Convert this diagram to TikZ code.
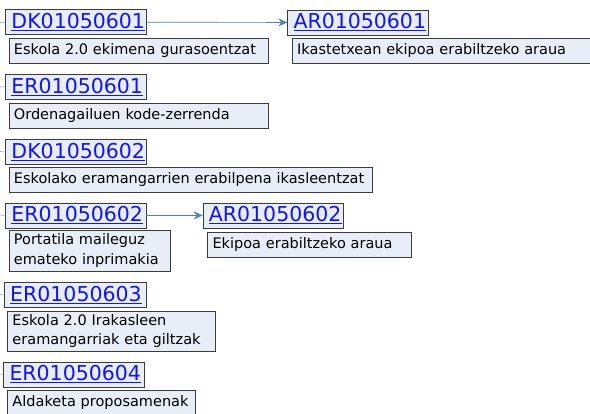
\documentclass[tikz,border=0pt]{standalone}
\usepackage{fontspec}
\setmainfont{DejaVu Sans}
\usetikzlibrary{arrows.meta}
\definecolor{boxfill}{RGB}{232,238,248}
\definecolor{boxline}{RGB}{60,60,60}
\definecolor{linkblue}{RGB}{20,20,240}
\definecolor{conn}{RGB}{79,129,189}
\tikzset{
  titlebox/.style={draw=boxline, fill=boxfill, anchor=north west, inner xsep=6pt, inner ysep=0pt,
    minimum width=141pt, minimum height=25pt, text width=129pt, align=left,
    font=\fontsize{20.5}{22}\selectfont, text=linkblue},
  descbox/.style={draw=boxline, fill=boxfill, anchor=north west, inner xsep=5pt, inner ysep=0pt,
    minimum height=25pt, align=left, font=\fontsize{14.5}{19.5}\selectfont},
  conn/.style={draw=conn, line width=0.7pt, -{Stealth[length=9pt,width=8pt]}},
  stub/.style={draw=conn!70, line width=0.6pt},
}
\begin{document}
\begin{tikzpicture}[x=1pt,y=-1pt]
\useasboundingbox (0,0) rectangle (590,414);
% row 1
\node[titlebox] (t1) at (5.3,9.5) {\underline{DK01050601}};
\node[descbox, text width=249.3pt] (d1) at (8.7,38.3) {Eskola 2.0 ekimena gurasoentzat};
\node[titlebox] (t1b) at (287.3,9.8) {\underline{AR01050601}};
\node[descbox, text width=296pt] (d1b) at (292,38.3) {Ikastetxean ekipoa erabiltzeko araua};
% row 2
\node[titlebox] (t2) at (5.3,74) {\underline{ER01050601}};
\node[descbox, text width=249.3pt] (d2) at (8.7,103.3) {Ordenagailuen kode-zerrenda};
% row 3
\node[titlebox] (t3) at (5.3,139.3) {\underline{DK01050602}};
\node[descbox, text width=353pt] (d3) at (8.7,167.3) {Eskolako eramangarrien erabilpena ikasleentzat};
% row 4
\node[titlebox, minimum width=140.4pt, text width=128.4pt] (t4) at (5.3,202.7) {\underline{ER01050602}};
\node[descbox, text width=151.3pt, minimum height=41pt] (d4) at (8.7,230) {Portatila maileguz\\emateko inprimakia};
\node[titlebox, minimum width=140.6pt, text width=128.6pt] (t4b) at (202.7,202.7) {\underline{AR01050602}};
\node[descbox, text width=193.7pt] (d4b) at (207.3,231.7) {Ekipoa erabiltzeko araua};
% row 5
\node[titlebox, minimum width=141.7pt, text width=129.7pt] (t5) at (4,282.3) {\underline{ER01050603}};
\node[descbox, text width=197.7pt, minimum height=40pt] (d5) at (7.3,310.7) {Eskola 2.0 Irakasleen\\eramangarriak eta giltzak};
% row 6
\node[titlebox, minimum width=140.7pt, text width=128.7pt] (t6) at (3.3,361.7) {\underline{ER01050604}};
\node[descbox, text width=177.7pt] (d6) at (7.3,390) {Aldaketa proposamenak};
% connectors
\draw[conn] (t1) -- (t1b);
\draw[conn] (t4) -- (t4b);
% left stubs
\coordinate (s1) at (0,22.5);
\coordinate (s2) at (0,87);
\coordinate (s3) at (0,151.5);
\coordinate (s4) at (0,215);
\coordinate (s5) at (0,294.5);
\coordinate (s6) at (0,374);
\draw[stub] (s1) -- (t1.west);
\draw[stub] (s2) -- (t2.west);
\draw[stub] (s3) -- (t3.west);
\draw[stub] (s4) -- (t4.west);
\draw[stub] (s5) -- (t5.west);
\draw[stub] (s6) -- (t6.west);
\end{tikzpicture}
\end{document}
